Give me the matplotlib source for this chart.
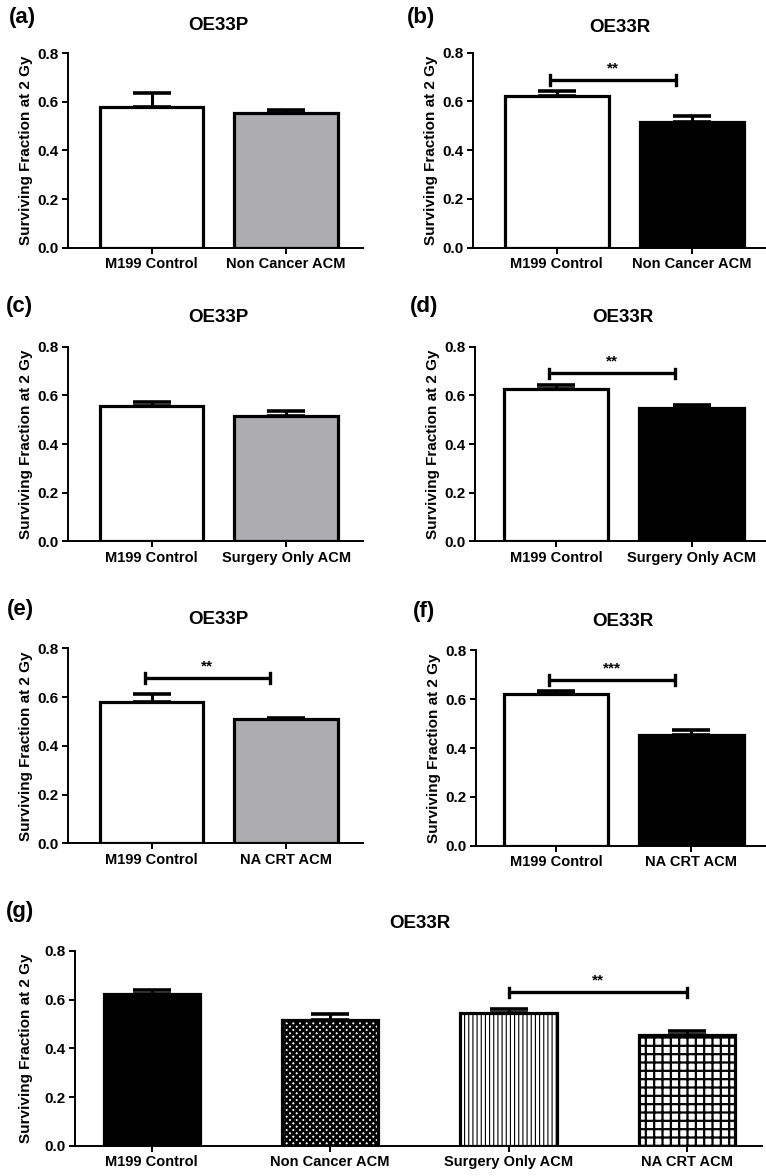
import matplotlib
matplotlib.use("Agg")
import matplotlib.pyplot as plt

plt.rcParams['font.family'] = ['Liberation Sans', 'DejaVu Sans']
plt.rcParams['font.weight'] = 'bold'

W, H = 766, 1176

# data (surviving fraction at 2 Gy, mean and upper error)
panel_labels = ['(a)', '(b)', '(c)', '(d)', '(e)', '(f)', '(g)']
titles = ['OE33P', 'OE33R', 'OE33P', 'OE33R', 'OE33P', 'OE33R', 'OE33R']

cats_ab = ['M199 Control', 'Non Cancer ACM']
cats_cd = ['M199 Control', 'Surgery Only ACM']
cats_ef = ['M199 Control', 'NA CRT ACM']
cats_g = ['M199 Control', 'Non Cancer ACM', 'Surgery Only ACM', 'NA CRT ACM']

means_a = [0.580, 0.553]
err_a = [0.055, 0.014]
means_b = [0.621, 0.516]
err_b = [0.020, 0.024]
means_c = [0.557, 0.514]
err_c = [0.017, 0.020]
means_d = [0.626, 0.548]
err_d = [0.015, 0.014]
means_e = [0.579, 0.508]
err_e = [0.035, 0.006]
means_f = [0.623, 0.455]
err_f = [0.011, 0.018]
means_g = [0.625, 0.516, 0.547, 0.453]
err_g = [0.016, 0.025, 0.016, 0.019]

# significance: (stars, bracket height, from bar, to bar)
sig_a = None
sig_b = ('**', 0.688, 0, 1)
sig_c = None
sig_d = ('**', 0.690, 0, 1)
sig_e = ('**', 0.677, 0, 1)
sig_f = ('***', 0.677, 0, 1)
sig_g = ('**', 0.630, 2, 3)

GREY = '#adadb0'

# pixel boxes: x0, x1, y_top(0.8), y_bottom(0.0)
boxes = [
    (68, 363, 53.3, 247.7),
    (473, 766, 52.7, 247.7),
    (68, 363, 346.7, 541.3),
    (475, 766, 346.7, 541.3),
    (68, 363, 648.3, 843.3),
    (476, 766, 650.3, 845.7),
    (75, 762, 951, 1145.7),
]
xlims = [(-0.62, 1.57), (-0.62, 1.55), (-0.62, 1.57), (-0.60, 1.55),
         (-0.62, 1.57), (-0.59, 1.55), (-0.43, 3.42)]
title_pos = [(218, 25), (620, 27), (218, 317), (623, 318), (218, 620), (623, 622), (420, 923)]
label_pos = [(22, 18), (421, 18), (19, 307), (424, 307), (20, 610), (424, 612), (20, 912)]

panels = [
    (cats_ab, means_a, err_a, ['white', GREY], sig_a),
    (cats_ab, means_b, err_b, ['white', 'black'], sig_b),
    (cats_cd, means_c, err_c, ['white', GREY], sig_c),
    (cats_cd, means_d, err_d, ['white', 'black'], sig_d),
    (cats_ef, means_e, err_e, ['white', GREY], sig_e),
    (cats_ef, means_f, err_f, ['white', 'black'], sig_f),
    (cats_g, means_g, err_g, ['black', 'white', 'white', 'white'], sig_g),
]
hatches_g = [None, 'xxxxx', '||||', '++']
hatch_lw_g = [1.0, 2.0, 0.8, 1.6]

fig = plt.figure(figsize=(W / 100, H / 100), dpi=100)

for i, (cats, means, errs, colors, sig) in enumerate(panels):
    x0, x1, yt, yb = boxes[i]
    ax = fig.add_axes([x0 / W, 1 - yb / H, (x1 - x0) / W, (yb - yt) / H])
    big = i == 6
    xs = list(range(len(cats)))
    width = 0.54 if big else 0.77
    bars = ax.bar(xs, means, width=width, color=colors, edgecolor='black',
                  linewidth=2.3, zorder=2)
    if big:
        for b, h, hl in zip(bars, hatches_g, hatch_lw_g):
            if h:
                b.set_hatch(h)
                if hasattr(b, 'set_hatch_linewidth'):
                    b.set_hatch_linewidth(hl)
    ax.errorbar(xs, means, yerr=[[0] * len(errs), errs], fmt='none', ecolor='black',
                elinewidth=2.2, capsize=14 if big else 13.5, capthick=2.6, zorder=3)

    if sig:
        stars, yb_, a, b = sig
        if big:
            xa, xb = a, b
        else:
            xa, xb = a - 0.05, b - 0.12
        ax.plot([xa, xb], [yb_, yb_], color='black', lw=2.4, zorder=4, solid_capstyle='butt')
        ax.plot([xa, xa], [yb_ - 0.02, yb_ + 0.02], color='black', lw=2.4, zorder=4)
        ax.plot([xb, xb], [yb_ - 0.02, yb_ + 0.02], color='black', lw=2.4, zorder=4)
        ax.text((xa + xb) / 2, yb_ + 0.02, stars, ha='center', va='bottom',
                fontsize=11, fontweight='bold')

    ax.set_xlim(*xlims[i])
    ax.set_ylim(0, 0.8)
    ax.set_yticks([0.0, 0.2, 0.4, 0.6, 0.8])
    ax.set_yticklabels(['0.0', '0.2', '0.4', '0.6', '0.8'])
    ax.set_xticks(xs)
    ax.set_xticklabels(cats, fontsize=10.5, fontweight='bold')
    ax.tick_params(axis='y', labelsize=11)
    ax.set_ylabel('Surviving Fraction at 2 Gy', fontsize=11, fontweight='bold',
                  labelpad=8 if big else 3)
    for s in ['top', 'right']:
        ax.spines[s].set_visible(False)
    for s in ['left', 'bottom']:
        ax.spines[s].set_linewidth(1.4)
    ax.tick_params(direction='out', length=4.5, width=1.4, pad=2.5)

    tx, ty = title_pos[i]
    fig.text(tx / W, 1 - ty / H, titles[i], ha='center', va='center',
             fontsize=13.5, fontweight='bold')
    lx, ly = label_pos[i]
    fig.text(lx / W, 1 - ly / H, panel_labels[i], ha='center', va='center',
             fontsize=16, fontweight='bold')

fig.savefig('out.png', dpi=100)
